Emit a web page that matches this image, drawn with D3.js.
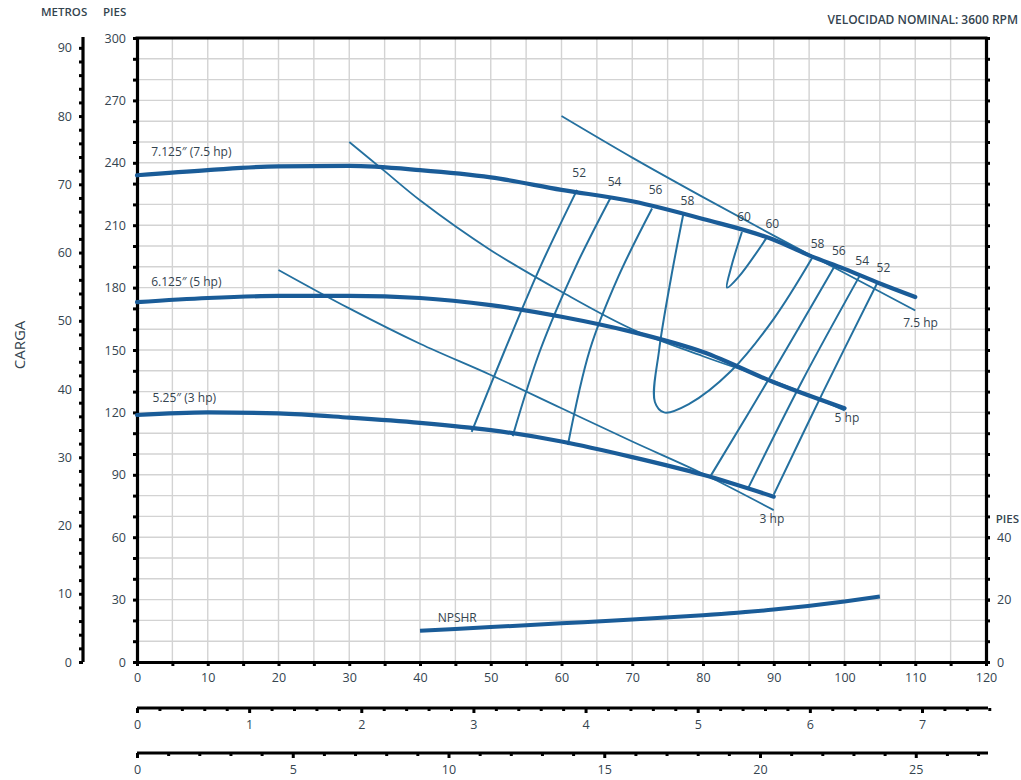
<!DOCTYPE html>
<html><head><meta charset="utf-8">
<script src="https://cdn.jsdelivr.net/npm/d3@7"></script>
<style>
body{margin:0;background:#fff}
svg{display:block}
text{font-family:"Open Sans",sans-serif;fill:#34444f}
</style>
</head><body>
<svg id="chart" width="1021" height="780"></svg>
<script>
// Tick values for every scale
const flowTicks = d3.range(0, 121, 10);        // US gpm
const headTicks = d3.range(0, 301, 30);        // feet
const meterTicks = d3.range(0, 91, 10);        // metres
const npshTicks = [0, 20, 40];                 // feet of NPSH
const lpsTicks = d3.range(0, 8);               // L/s
const m3hTicks = [0, 5, 10, 15, 20, 25];       // m3/h

// Impeller head curves [gpm, ft]
const imp7125 = [[0,234],[10,236.5],[20,238.3],[30,238.5],[40,236.5],[50,233],[60,227],[70,221.5],[80,213],[90,203],[95,195.5],[100,189],[105,182],[110,175.5]];
const imp6125 = [[0,173],[10,175],[20,176],[30,176],[40,175],[50,171.6],[60,166],[70,158.7],[80,149],[90,134.5],[100,122]];
const imp525  = [[0,118.75],[10,120],[20,119.5],[30,117.5],[40,115],[50,111.5],[60,106],[70,98.5],[80,90],[90,79.5]];

// NPSH required [gpm, ft NPSH]
const npshr = [[40,10],[50,11.2],[60,12.4],[70,13.6],[80,15],[90,16.8],[100,19.4],[105,21]];

// Motor power limits [gpm, ft]
const pow75 = [[60,262.5],[70,242.5],[80,223.5],[90,205],[100,187],[110,169]];
const pow5  = [[30,250],[35,236],[40,222],[50,198],[60,178],[70,160],[80,147],[90,135],[100,121]];
const pow3  = [[20,188.5],[30,170],[40,153],[50,138],[60,122],[70,106],[80,90.5],[90,73]];

// Efficiency contours [gpm, ft]
const eff52L = [[62.2,227],[57,190],[52,150],[47.3,110.6]];
const eff54L = [[66.9,223],[62,190],[57,150],[53.1,108.6]];
const eff56L = [[72.8,218],[68,185],[64,150],[60.9,104.3]];
const eff58  = [[77.2,215],[75.5,185],[73.8,150],[73.2,125],[74.5,120],[78,124],[84,140],[90,165],[95.5,194.7]];
const eff60  = [[85.5,206.7],[84,190],[83.4,180],[85,185],[89,204]];
const eff56R = [[98.7,190.9],[90,140],[81,89]];
const eff54R = [[102.2,186],[94,135],[86.4,83.7]];
const eff52R = [[104.7,182.7],[97,130],[90,80.5]];
const effLines = [eff52L, eff54L, eff56L, eff58, eff60, eff56R, eff54R, eff52R];

// Efficiency labels [gpm, ft, text]
const effLabels = [[62.5,233,"52"],[67.5,229,"54"],[73.3,225,"56"],[77.8,219.5,"58"],[85.8,212,"60"],[89.8,208.5,"60"],[96.2,199,"58"],[99.2,195.5,"56"],[102.5,191,"54"],[105.5,187.5,"52"]];

// Curve captions [gpm, ft, text]
const curveLabels = [[2,243.5,"7.125\u2033 (7.5 hp)"],[2,181,"6.125\u2033 (5 hp)"],[2.2,125,"5.25\u2033 (3 hp)"]];
const powerLabels = [[108.3,161,"7.5 hp"],[98.6,115.5,"5 hp"],[88,67,"3 hp"]];

const svg = d3.select("#chart");
const L = 137, R = 986, T = 38, B = 662;
const x = d3.scaleLinear([0, 120], [L, R]);
const y = d3.scaleLinear([0, 300], [B, T]);
const yM = d3.scaleLinear([0, 300 * 0.3048], [B, T]);
const yN = d3.scaleLinear([0, 200], [B, T]);
const xL = d3.scaleLinear([0, 120 * 0.0630902], [L, R]);
const xM = d3.scaleLinear([0, 120 * 0.2271247], [L, R]);

const thick = "#1a5c98", thin = "#24709f";

// grid
const grid = svg.append("g").attr("stroke", "#d3d3d3").attr("stroke-width", 1.4);
grid.selectAll("line.v").data(d3.range(5, 120, 5)).join("line")
  .attr("x1", d => x(d)).attr("x2", d => x(d)).attr("y1", T).attr("y2", B);
grid.selectAll("line.h").data(d3.range(10, 300, 10)).join("line")
  .attr("x1", L).attr("x2", R).attr("y1", d => y(d)).attr("y2", d => y(d));

function styleAxis(g, fs) {
  g.select(".domain").attr("stroke", "#000").attr("stroke-width", 3.2);
  g.selectAll(".tick line").attr("stroke", "#000").attr("stroke-width", 3);
  g.selectAll(".tick text").attr("fill", "#34444f").style("font-size", fs + "px")
    .style("font-family", "'Open Sans',sans-serif");
}

// left head axis (feet)
svg.append("g").attr("transform", `translate(${L},0)`)
  .call(d3.axisLeft(y).tickValues(d3.range(0, 301, 10)).tickSize(4).tickSizeOuter(0).tickPadding(7)
    .tickFormat(d => headTicks.includes(d) ? d : ""))
  .call(g => styleAxis(g, 12.5));

// metres axis
svg.append("g").attr("transform", "translate(83,0)")
  .call(d3.axisLeft(yM).tickValues(d3.range(0, 92, 2)).tickSize(4).tickSizeOuter(0).tickPadding(7)
    .tickFormat(d => meterTicks.includes(d) ? d : ""))
  .call(g => styleAxis(g, 12.5))
  .call(g => g.select(".domain").attr("d", `M0,${T - 1}V${B}`));

// right NPSH axis: ticks aligned with head grid, labels in NPSH feet
svg.append("g").attr("transform", `translate(${R},0)`)
  .call(d3.axisRight(y).tickValues(d3.range(0, 301, 10)).tickSize(4).tickSizeOuter(0).tickFormat(""))
  .call(g => styleAxis(g, 12.5));
svg.append("g").attr("transform", `translate(${R},0)`)
  .call(d3.axisRight(yN).tickValues(npshTicks).tickSize(4).tickSizeOuter(0).tickPadding(7))
  .call(g => styleAxis(g, 12.5))
  .call(g => g.select(".domain").remove());

// top border
svg.append("line").attr("x1", L - 1.5).attr("x2", R + 1.5).attr("y1", T).attr("y2", T)
  .attr("stroke", "#000").attr("stroke-width", 3.2);

// bottom flow axis (gpm)
svg.append("g").attr("transform", `translate(0,${B})`)
  .call(d3.axisBottom(x).tickValues(d3.range(0, 121, 5)).tickSize(4).tickSizeOuter(0).tickPadding(7)
    .tickFormat(d => flowTicks.includes(d) ? d : ""))
  .call(g => styleAxis(g, 12.5));

// L/s axis
svg.append("g").attr("transform", "translate(0,708)")
  .call(d3.axisBottom(xL).tickValues(d3.range(0, 7.61, 0.2).map(v => +v.toFixed(1))).tickSize(3).tickSizeOuter(0).tickPadding(9)
    .tickFormat(d => Number.isInteger(d) && lpsTicks.includes(d) ? d : ""))
  .call(g => styleAxis(g, 12.5))
  .call(g => g.select(".domain").attr("d", `M${L},0H${R + 2}`))
  .call(g => g.selectAll(".tick line").attr("y2", d => Number.isInteger(d) ? 5 : 3));

// m3/h axis
svg.append("g").attr("transform", "translate(0,753)")
  .call(d3.axisBottom(xM).tickValues(d3.range(0, 28, 1)).tickSize(3).tickSizeOuter(0).tickPadding(9)
    .tickFormat(d => m3hTicks.includes(d) ? d : ""))
  .call(g => styleAxis(g, 12.5))
  .call(g => g.select(".domain").attr("d", `M${L},0H${R + 2}`))
  .call(g => g.selectAll(".tick line").attr("y2", d => d % 5 === 0 ? 5 : 3));

// titles
svg.append("text").attr("x", 41).attr("y", 16).style("font-size", "11.5px").style("font-weight", 600).text("METROS");
svg.append("text").attr("x", 103).attr("y", 16).style("font-size", "11.5px").style("font-weight", 600).text("PIES");
svg.append("text").attr("x", 1018).attr("y", 24).attr("text-anchor", "end")
  .style("font-size", "12px").style("font-weight", 600).text("VELOCIDAD NOMINAL: 3600 RPM");
svg.append("text").attr("x", 1019).attr("y", 523).attr("text-anchor", "end")
  .style("font-size", "11.5px").style("font-weight", 600).text("PIES");
svg.append("text").attr("transform", "translate(25,345) rotate(-90)").attr("text-anchor", "middle")
  .style("font-size", "15px").text("CARGA");

const plot = svg.append("g");
const smooth = d3.line().x(d => x(d[0])).y(d => y(d[1])).curve(d3.curveMonotoneX);
const loose = d3.line().x(d => x(d[0])).y(d => y(d[1])).curve(d3.curveCatmullRom.alpha(0.5));

// motor power limits
plot.selectAll("path.pow").data([pow75, pow5, pow3]).join("path")
  .attr("d", loose).attr("fill", "none").attr("stroke", thin).attr("stroke-width", 1.8);

// efficiency contours
plot.selectAll("path.eff").data(effLines).join("path")
  .attr("d", loose).attr("fill", "none").attr("stroke", thin).attr("stroke-width", 2);

// impeller curves
plot.selectAll("path.imp").data([imp7125, imp6125, imp525]).join("path")
  .attr("d", smooth).attr("fill", "none").attr("stroke", thick).attr("stroke-width", 4.2).attr("stroke-linecap", "round");

// NPSHR
plot.append("path").datum(npshr)
  .attr("d", d3.line().x(d => x(d[0])).y(d => yN(d[1])).curve(d3.curveMonotoneX))
  .attr("fill", "none").attr("stroke", thick).attr("stroke-width", 4);
plot.append("text").attr("x", x(42.5)).attr("y", yN(12.8)).style("font-size", "12px").text("NPSHR");

// labels
plot.selectAll("text.eff").data(effLabels).join("text")
  .attr("x", d => x(d[0])).attr("y", d => y(d[1])).attr("text-anchor", "middle")
  .style("font-size", "12px").text(d => d[2]);
plot.selectAll("text.cap").data(curveLabels.concat(powerLabels)).join("text")
  .attr("x", d => x(d[0])).attr("y", d => y(d[1]))
  .style("font-size", "12px").text(d => d[2]);
</script>
</body></html>
